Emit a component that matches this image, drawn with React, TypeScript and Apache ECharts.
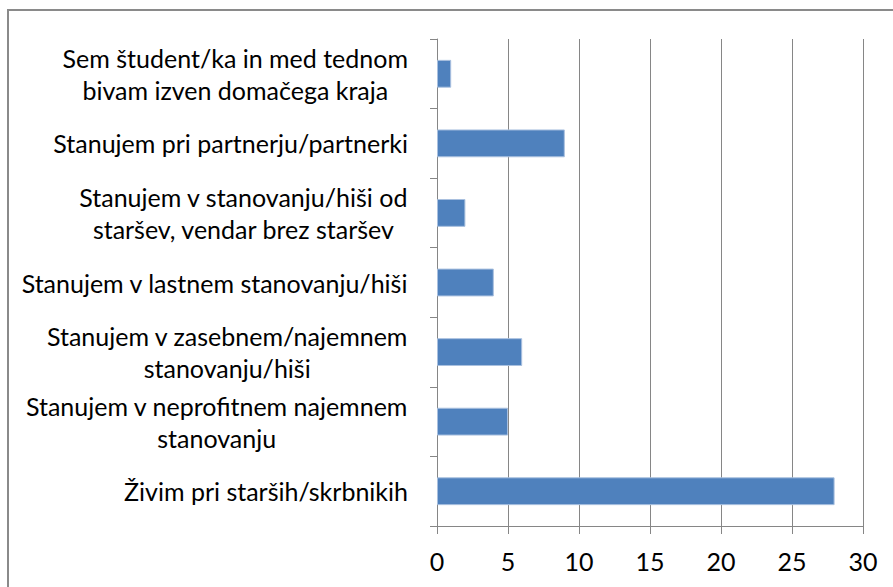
import React, { useEffect, useRef } from "react";
import * as echarts from "echarts";

const categories = [
  "Sem študent/ka in med tednom\nbivam izven domačega kraja",
  "Stanujem pri partnerju/partnerki",
  "Stanujem v stanovanju/hiši od\nstaršev, vendar brez staršev",
  "Stanujem v lastnem stanovanju/hiši",
  "Stanujem v zasebnem/najemnem\nstanovanju/hiši",
  "Stanujem v neprofitnem najemnem\nstanovanju",
  "Živim pri starših/skrbnikih",
];
const values = [1, 9, 2, 4, 6, 5, 28];
const xTicks = [0, 5, 10, 15, 20, 25, 30];

const FONT = "Lato";
const GRAY = "#868686";
const FS = 25;

export default function App() {
  const ref = useRef<HTMLDivElement>(null);
  useEffect(() => {
    if (!ref.current) return;
    const chart = echarts.init(ref.current, null, { renderer: "svg" });
    chart.setOption({
      animation: false,
      backgroundColor: "#ffffff",
      graphic: [
        {
          type: "rect",
          shape: { x: 8, y: 10, width: 1000, height: 1000 },
          style: { fill: "none", stroke: "#8a8a8a", lineWidth: 2 },
          silent: true,
        },
      ],
      grid: { left: 437, right: 30, top: 39, bottom: 61, containLabel: false },
      xAxis: {
        type: "value",
        min: xTicks[0],
        max: xTicks[xTicks.length - 1],
        interval: 5,
        axisLine: { show: true, lineStyle: { color: GRAY, width: 1 } },
        axisTick: { show: true, length: 8, lineStyle: { color: GRAY } },
        splitLine: { show: true, lineStyle: { color: GRAY, width: 1 } },
        axisLabel: { fontFamily: FONT, fontSize: FS, color: "#000", margin: 22 },
      },
      yAxis: {
        type: "category",
        inverse: true,
        data: categories,
        axisLine: { show: true, lineStyle: { color: GRAY, width: 1 } },
        axisTick: { show: true, length: 7, lineStyle: { color: GRAY } },
        splitLine: { show: false },
        axisLabel: {
          fontFamily: FONT,
          fontSize: FS,
          color: "#000",
          margin: 29,
          lineHeight: 32,
          formatter: (v: string) =>
            v
              .split("\n")
              .map((l) => `{c|${l}}`)
              .join("\n"),
          rich: {
            c: { align: "center", fontFamily: FONT, fontSize: FS, lineHeight: 32, color: "#000" },
          },
        },
      },
      series: [
        {
          type: "bar",
          data: values,
          barWidth: "40%",
          itemStyle: { color: "#4F81BD", borderColor: "#a9c0df", borderWidth: 1 },
        },
      ],
    });
    return () => chart.dispose();
  }, []);
  return (
    <div
      ref={ref}
      style={{ position: "fixed", left: 0, top: 0, width: 893, height: 587 }}
    />
  );
}
